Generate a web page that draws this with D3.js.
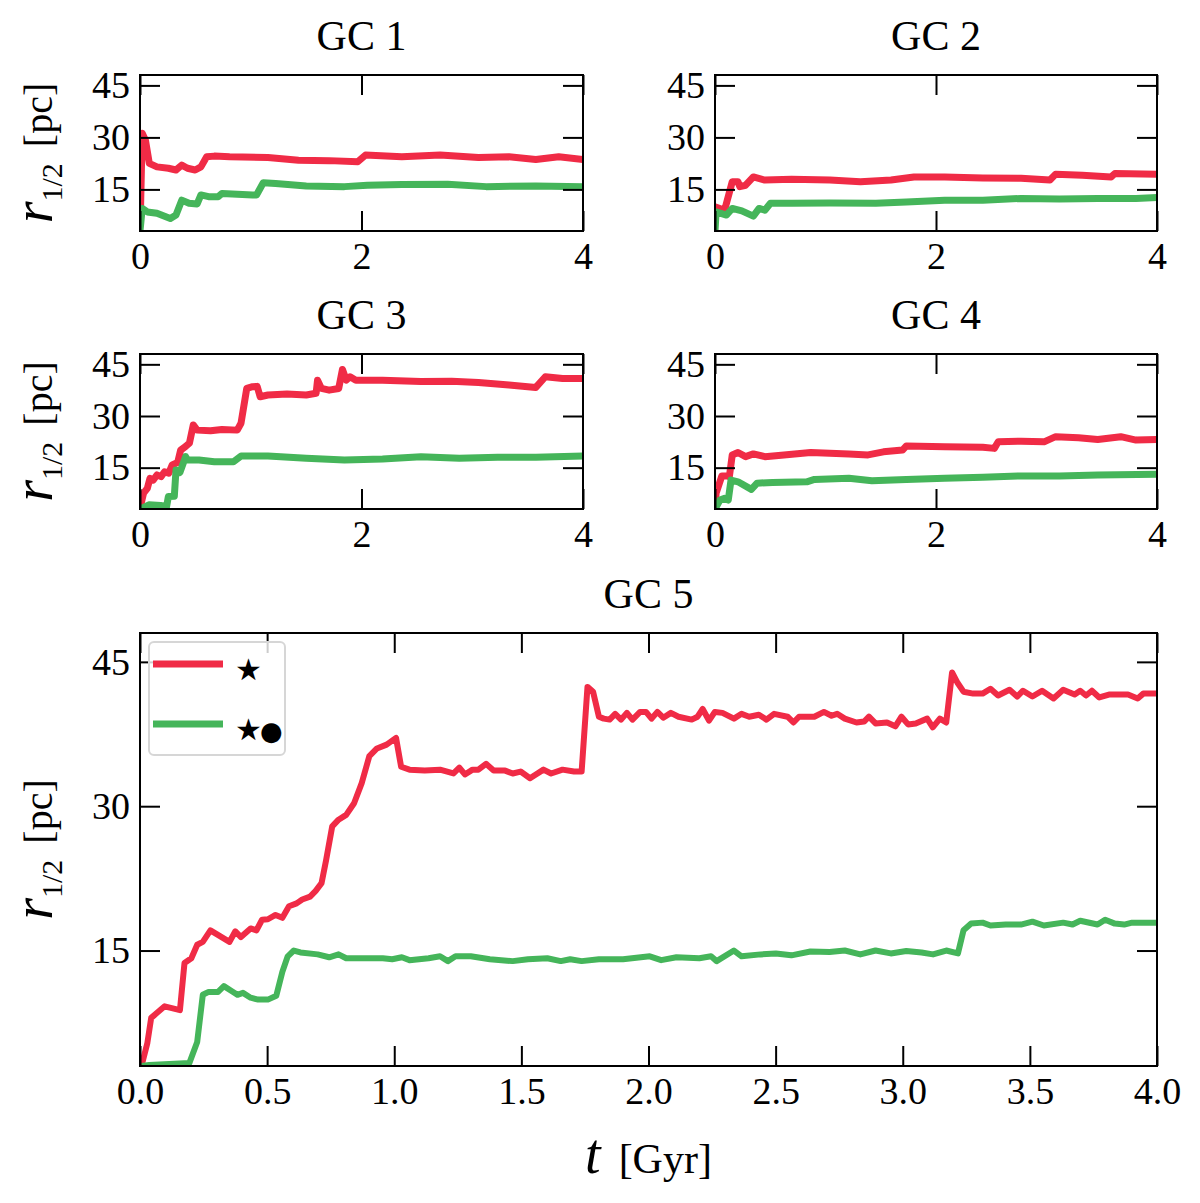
<!DOCTYPE html>
<html>
<head>
<meta charset="utf-8">
<script src="https://cdn.jsdelivr.net/npm/d3@7"></script>
<style>
  body { margin: 0; background: #fff; }
  svg text { font-family: "Liberation Serif", "DejaVu Serif", serif; fill: #000; }
</style>
</head>
<body>
<svg id="chart" width="1200" height="1203"></svg>
<script>
// [t (Gyr), r_1/2 (pc)]
const gc1Star = [[0.005,9.5],[0.02,31.2],[0.049,29.2],[0.084,22.5],[0.153,21.5],[0.256,21.1],[0.325,20.6],[0.377,22.0],[0.429,21.1],[0.498,20.6],[0.55,21.5],[0.602,24.4],[0.671,24.6],[0.809,24.4],[1.155,24.2],[1.431,23.4],[1.708,23.3],[1.967,23.0],[2.036,24.9],[2.364,24.4],[2.71,24.9],[3.056,24.2],[3.332,24.4],[3.574,23.6],[3.781,24.4],[4.0,23.6]];
const gc1Both = [[0.0,3.0],[0.02,9.5],[0.066,8.5],[0.153,8.1],[0.274,6.6],[0.325,7.6],[0.377,11.9],[0.443,11.0],[0.516,10.8],[0.55,13.4],[0.619,12.9],[0.705,12.9],[0.74,13.8],[1.017,13.4],[1.052,13.4],[1.113,16.9],[1.224,16.7],[1.501,16.0],[1.846,15.8],[2.053,16.2],[2.364,16.4],[2.779,16.5],[3.125,15.8],[3.574,16.0],[4.0,15.8]];

const gc2Star = [[0.0,10.0],[0.087,9.0],[0.156,17.2],[0.208,17.2],[0.225,15.8],[0.277,16.2],[0.347,18.6],[0.451,17.7],[0.693,17.9],[1.04,17.7],[1.316,17.2],[1.593,17.7],[1.801,18.6],[2.078,18.6],[2.424,18.3],[2.77,18.2],[3.031,17.7],[3.083,19.4],[3.325,19.1],[3.585,18.6],[3.619,19.6],[4.0,19.4]];
const gc2Both = [[0.0,3.0],[0.01,8.5],[0.104,7.6],[0.156,9.5],[0.243,8.8],[0.347,7.3],[0.399,9.5],[0.451,9.0],[0.502,11.0],[0.693,11.0],[1.04,11.1],[1.455,11.0],[1.732,11.4],[2.078,11.9],[2.424,11.9],[2.77,12.4],[3.117,12.2],[3.464,12.4],[3.81,12.4],[4.0,12.7]];

const gc3Star = [[0.0,3.2],[0.032,7.6],[0.066,9.0],[0.09,11.9],[0.12,11.4],[0.153,12.9],[0.19,12.4],[0.222,13.8],[0.26,13.4],[0.291,15.8],[0.34,16.5],[0.367,20.1],[0.41,21.1],[0.446,22.1],[0.481,27.4],[0.516,25.9],[0.637,25.7],[0.74,26.1],[0.878,25.9],[0.912,27.9],[0.964,38.0],[1.017,38.5],[1.058,38.6],[1.085,35.6],[1.155,36.1],[1.327,36.4],[1.501,36.1],[1.59,36.6],[1.603,40.4],[1.638,38.0],[1.708,37.5],[1.794,38.0],[1.828,43.5],[1.862,40.4],[1.897,41.4],[1.949,40.4],[2.19,40.4],[2.537,40.0],[2.814,40.1],[3.056,39.7],[3.332,39.0],[3.574,38.3],[3.66,41.4],[3.816,40.9],[4.0,40.9]];
const gc3Both = [[0.0,3.0],[0.08,4.2],[0.187,4.0],[0.24,3.7],[0.256,6.6],[0.31,6.7],[0.325,14.3],[0.36,13.6],[0.412,18.2],[0.43,17.2],[0.533,17.2],[0.671,16.7],[0.844,16.7],[0.913,18.4],[1.155,18.4],[1.501,17.7],[1.846,17.2],[2.19,17.5],[2.537,18.2],[2.883,17.7],[3.229,18.0],[3.574,18.0],[4.0,18.4]];

const gc4Star = [[0.0,3.2],[0.01,7.6],[0.062,12.6],[0.104,12.6],[0.13,12.4],[0.156,18.7],[0.208,19.4],[0.277,18.2],[0.347,19.0],[0.451,18.2],[0.624,18.7],[0.866,19.4],[1.212,19.0],[1.385,18.7],[1.524,19.6],[1.697,20.1],[1.732,21.3],[2.078,21.1],[2.424,20.9],[2.528,20.6],[2.563,22.5],[2.77,22.7],[2.978,22.5],[3.083,24.0],[3.29,23.7],[3.464,23.2],[3.672,24.0],[3.81,23.0],[4.0,23.2]];
const gc4Both = [[0.0,3.0],[0.045,5.6],[0.087,6.1],[0.12,5.6],[0.145,11.4],[0.208,10.9],[0.329,8.7],[0.381,10.5],[0.52,10.7],[0.831,10.9],[0.9,11.6],[1.212,11.9],[1.42,11.2],[1.732,11.6],[2.078,11.9],[2.424,12.2],[2.77,12.6],[3.117,12.6],[3.464,12.9],[4.0,13.1]];

const gc5Star = [[0.006,3.0],[0.029,5.4],[0.044,8.0],[0.066,8.5],[0.097,9.2],[0.157,8.8],[0.175,13.7],[0.202,14.2],[0.225,15.6],[0.247,15.9],[0.277,17.1],[0.352,15.9],[0.375,17.0],[0.397,16.4],[0.435,17.3],[0.458,17.1],[0.48,18.2],[0.503,18.25],[0.533,18.7],[0.56,18.4],[0.586,19.6],[0.616,19.9],[0.638,20.3],[0.669,20.6],[0.691,21.2],[0.714,22.0],[0.732,24.4],[0.756,27.9],[0.781,28.6],[0.811,29.1],[0.842,30.3],[0.872,32.4],[0.902,35.2],[0.932,36.0],[0.97,36.4],[1.007,37.1],[1.027,34.1],[1.06,33.8],[1.12,33.7],[1.18,33.8],[1.233,33.4],[1.256,34.0],[1.278,33.3],[1.308,33.8],[1.331,33.8],[1.361,34.4],[1.391,33.7],[1.436,33.7],[1.466,33.4],[1.497,33.6],[1.534,32.9],[1.557,33.3],[1.587,33.8],[1.617,33.4],[1.662,33.8],[1.707,33.6],[1.737,33.6],[1.76,42.4],[1.782,41.9],[1.805,39.3],[1.824,39.1],[1.847,39.0],[1.869,39.6],[1.892,39.0],[1.915,39.7],[1.937,39.0],[1.967,39.8],[1.99,39.8],[2.012,39.1],[2.035,39.8],[2.058,39.2],[2.088,39.7],[2.118,39.3],[2.17,39.0],[2.193,39.3],[2.213,40.1],[2.238,38.9],[2.261,39.8],[2.291,39.7],[2.336,39.1],[2.366,39.6],[2.396,39.3],[2.434,39.5],[2.464,39.0],[2.494,39.6],[2.547,39.3],[2.57,38.7],[2.592,39.3],[2.652,39.3],[2.69,39.8],[2.72,39.4],[2.742,39.6],[2.772,39.1],[2.818,38.7],[2.848,38.8],[2.867,39.3],[2.893,38.6],[2.938,38.7],[2.971,38.3],[2.995,39.3],[3.021,38.5],[3.051,38.6],[3.096,39.1],[3.118,38.2],[3.146,39.1],[3.171,38.7],[3.194,43.9],[3.216,42.8],[3.239,41.9],[3.277,41.7],[3.314,41.7],[3.345,42.2],[3.375,41.5],[3.42,42.1],[3.45,41.4],[3.473,42.0],[3.51,41.4],[3.548,42.0],[3.593,41.2],[3.631,42.1],[3.676,41.6],[3.698,42.0],[3.721,41.5],[3.744,42.0],[3.773,41.3],[3.811,41.6],[3.886,41.6],[3.924,41.2],[3.946,41.7],[4.0,41.7]];
const gc5Both = [[0.006,3.0],[0.036,3.1],[0.194,3.3],[0.225,5.5],[0.247,10.4],[0.27,10.7],[0.307,10.7],[0.33,11.3],[0.36,10.8],[0.383,10.4],[0.405,10.6],[0.435,10.1],[0.465,9.9],[0.503,9.9],[0.536,10.3],[0.56,12.8],[0.581,14.4],[0.605,15.0],[0.631,14.8],[0.699,14.6],[0.744,14.3],[0.781,14.6],[0.811,14.2],[0.894,14.2],[0.955,14.2],[0.992,14.1],[1.03,14.3],[1.06,14.0],[1.135,14.2],[1.18,14.4],[1.211,13.9],[1.241,14.4],[1.301,14.4],[1.376,14.1],[1.466,13.9],[1.526,14.1],[1.602,14.2],[1.655,13.9],[1.692,14.1],[1.737,13.9],[1.805,14.1],[1.9,14.1],[2.005,14.4],[2.05,14.0],[2.11,14.3],[2.2,14.2],[2.246,14.4],[2.268,13.9],[2.336,15.0],[2.366,14.4],[2.441,14.6],[2.501,14.7],[2.562,14.5],[2.637,14.9],[2.712,14.85],[2.772,15.0],[2.833,14.6],[2.893,15.0],[2.953,14.7],[3.014,14.95],[3.074,14.8],[3.119,14.6],[3.171,15.0],[3.217,14.7],[3.239,17.1],[3.269,17.8],[3.314,17.9],[3.345,17.6],[3.405,17.7],[3.465,17.7],[3.51,18.0],[3.555,17.6],[3.631,17.9],[3.668,17.7],[3.698,18.1],[3.766,17.7],[3.796,18.2],[3.834,17.8],[3.871,17.7],[3.902,17.9],[4.0,17.9]];

const panelNames = ["GC 1", "GC 2", "GC 3", "GC 4", "GC 5"];
const starSeries = [gc1Star, gc2Star, gc3Star, gc4Star, gc5Star];
const bothSeries = [gc1Both, gc2Both, gc3Both, gc4Both, gc5Both];
const yTicks = [15, 30, 45];
const smallXTicks = [0, 2, 4];
const bigXTicks = [0, 0.5, 1, 1.5, 2, 2.5, 3, 3.5, 4];
// legend glyphs: star, and star + black disc
const legendLabels = [["\u2605"], ["\u2605", "\u25CF"]];

const red = "#f02b46", green = "#45b55a";

const svg = d3.select("#chart");

// pixel boxes for each panel
const boxes = [
  {x0: 140, x1: 583, y0: 75, y1: 231},
  {x0: 715, x1: 1157, y0: 75, y1: 231},
  {x0: 140, x1: 583, y0: 354, y1: 509},
  {x0: 715, x1: 1157, y0: 354, y1: 509},
  {x0: 140, x1: 1157, y0: 633, y1: 1066}
];

boxes.forEach(function(b, i) {
  const big = i === 4;
  const x = d3.scaleLinear().domain([0, 4]).range([b.x0, b.x1]);
  const y = d3.scaleLinear().domain([3, 48]).range([b.y1, b.y0]);
  const g = svg.append("g");

  g.append("clipPath").attr("id", "clip" + i)
    .append("rect")
      .attr("x", b.x0).attr("y", b.y0)
      .attr("width", b.x1 - b.x0).attr("height", b.y1 - b.y0);

  const line = d3.line()
    .x(d => x(d[0]))
    .y(d => y(d[1]));

  const lines = g.append("g").attr("clip-path", "url(#clip" + i + ")");
  [[starSeries[i], red], [bothSeries[i], green]].forEach(function(s) {
    lines.append("path")
      .datum(s[0])
      .attr("d", line)
      .attr("fill", "none")
      .attr("stroke", s[1])
      .attr("stroke-width", big ? 6 : 7)
      .attr("stroke-linejoin", "round");
  });

  const xt = big ? bigXTicks : smallXTicks;
  const fmt = big ? d3.format(".1f") : d3.format("d");

  const axes = [
    [d3.axisBottom(x).tickValues(xt).tickFormat(fmt).tickPadding(11), b.y1, "x"],
    [d3.axisTop(x).tickValues(xt).tickFormat(""), b.y0, "x"],
    [d3.axisLeft(y).tickValues(yTicks).tickPadding(10), b.x0, "y"],
    [d3.axisRight(y).tickValues(yTicks).tickFormat(""), b.x1, "y"]
  ];
  axes.forEach(function(a) {
    const ag = g.append("g")
      .attr("transform", a[2] === "x" ? "translate(0," + a[1] + ")" : "translate(" + a[1] + ",0)")
      .call(a[0].tickSizeInner(-20).tickSizeOuter(0));
    ag.select(".domain").remove();
    ag.selectAll("line").attr("stroke", "#000").attr("stroke-width", 2);
    ag.selectAll("text")
      .style("font-family", "Liberation Serif")
      .style("font-size", "38px")
      .attr("fill", "#000");
  });

  g.append("rect")
    .attr("x", b.x0).attr("y", b.y0)
    .attr("width", b.x1 - b.x0).attr("height", b.y1 - b.y0)
    .attr("fill", "none").attr("stroke", "#000").attr("stroke-width", 2);

  g.append("text")
    .attr("x", (b.x0 + b.x1) / 2)
    .attr("y", b.y0 - 25)
    .attr("text-anchor", "middle")
    .style("font-size", "42px")
    .text(panelNames[i]);

  // y label on the left column only
  if (b.x0 === 140) {
    const yl = g.append("text")
      .attr("transform", "translate(52," + ((b.y0 + b.y1) / 2) + ") rotate(-90)")
      .attr("text-anchor", "middle");
    yl.append("tspan").style("font-style", "italic").style("font-size", "56px").text("r");
    yl.append("tspan").style("font-size", "30px").attr("dy", 10).text("1/2");
    yl.append("tspan").style("font-size", "40px").attr("dy", -10).attr("dx", 16).text("[pc]");
  }

  if (big) {
    const xl = g.append("text")
      .attr("x", (b.x0 + b.x1) / 2)
      .attr("y", 1173)
      .attr("text-anchor", "middle");
    xl.append("tspan").style("font-style", "italic").style("font-size", "56px").text("t");
    xl.append("tspan").style("font-size", "42px").attr("dx", 18).text("[Gyr]");

    const leg = g.append("g");
    leg.append("rect")
      .attr("x", 149).attr("y", 642)
      .attr("width", 136).attr("height", 113)
      .attr("rx", 5)
      .attr("fill", "#fff").attr("fill-opacity", 0.8)
      .attr("stroke", "#d6d6d6").attr("stroke-width", 2);
    [red, green].forEach(function(c, k) {
      const ly = 664 + k * 60;
      leg.append("line")
        .attr("x1", 153).attr("x2", 223)
        .attr("y1", ly).attr("y2", ly)
        .attr("stroke", c).attr("stroke-width", 7);
      const lt = leg.append("text")
        .attr("x", 235).attr("y", ly + 16)
        .style("font-family", "DejaVu Sans");
      lt.append("tspan").style("font-size", "30px").text(legendLabels[k][0]);
      if (legendLabels[k].length > 1) {
        lt.append("tspan").style("font-size", "26px").attr("dx", -2).text(legendLabels[k][1]);
      }
    });
  }
});
</script>
</body>
</html>
